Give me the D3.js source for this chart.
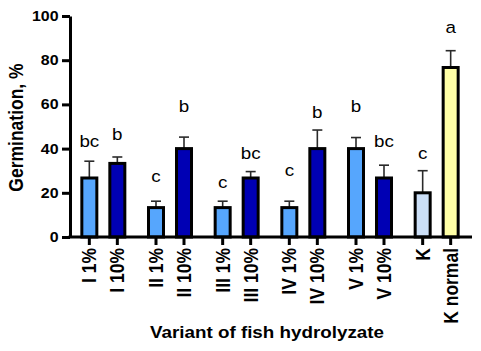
<!DOCTYPE html>
<html>
<head>
<meta charset="utf-8">
<script src="https://cdn.jsdelivr.net/npm/d3@7"></script>
<style>
  html, body { margin: 0; padding: 0; background: #fff; }
  svg { display: block; font-family: "Liberation Sans", Arial, sans-serif; }
</style>
</head>
<body>
<svg id="chart" width="481" height="351"></svg>
<script>
// ---- data ----
const categories = ["I 1%", "I 10%", "II 1%", "II 10%", "III 1%", "III 10%", "IV 1%", "IV 10%", "V 1%", "V 10%", "K", "K normal"];
const groups = ["I", "II", "III", "IV", "V", "K"];
const groupOf = ["I", "I", "II", "II", "III", "III", "IV", "IV", "V", "V", "K", "K"];
const subOf = [0, 1, 0, 1, 0, 1, 0, 1, 0, 1, 0, 1];
const means = [26.7, 33.3, 13.3, 40, 13.3, 26.7, 13.3, 40, 40, 26.7, 20, 76.7];
const errors = [7.6, 2.9, 2.9, 5.2, 2.9, 2.9, 2.9, 8.4, 5.0, 5.8, 10.0, 7.6];
const letters = ["bc", "b", "c", "b", "c", "bc", "c", "b", "b", "bc", "c", "a"];
const letterPos = [40.8, 43.9, 25.1, 56.5, 22.1, 35.2, 27.4, 53.8, 56.5, 40.7, 35.4, 92.2];
const fills = ["#56a6fd", "#0000b4", "#56a6fd", "#0000b4", "#56a6fd", "#0000b4", "#56a6fd", "#0000b4", "#56a6fd", "#0000b4", "#cbdff7", "#ffffa6"];
const yTicks = [0, 20, 40, 60, 80, 100];
const yTitle = "Germination, %";
const xTitle = "Variant of fish hydrolyzate";

// ---- layout ----
const svg = d3.select("#chart");
const mLeft = 70, mRight = 470, mTop = 16, mBottom = 237;
const sx = 1.14; // horizontal text stretch seen in the reference

const y = d3.scaleLinear().domain([0, 100]).range([mBottom, mTop]);
const x0 = d3.scaleBand().domain(groups).range([mLeft, mRight]).padding(0);
const x1 = d3.scalePoint().domain([0, 1]).range([-14, 14]);
const cx = i => x0(groupOf[i]) + x0.bandwidth() / 2 + x1(subOf[i]);
const barW = 15;

const data = categories.map((c, i) => ({ c, i, m: means[i], e: errors[i], l: letters[i], lp: letterPos[i], f: fills[i] }));

// error bars (upper only)
const eb = svg.append("g");
eb.selectAll("line.v").data(data).join("line").attr("class", "v")
  .attr("x1", d => cx(d.i)).attr("x2", d => cx(d.i))
  .attr("y1", d => y(d.m)).attr("y2", d => y(d.m + d.e))
  .attr("stroke", "#2a2a2a").attr("stroke-width", 1.6);
eb.selectAll("line.h").data(data).join("line").attr("class", "h")
  .attr("x1", d => cx(d.i) - 5).attr("x2", d => cx(d.i) + 5)
  .attr("y1", d => y(d.m + d.e)).attr("y2", d => y(d.m + d.e))
  .attr("stroke", "#2a2a2a").attr("stroke-width", 1.6);

// bars
svg.append("g").selectAll("rect").data(data).join("rect")
  .attr("x", d => cx(d.i) - barW / 2)
  .attr("width", barW)
  .attr("y", d => y(d.m))
  .attr("height", d => y(0) - y(d.m))
  .attr("fill", d => d.f)
  .attr("stroke", "#000")
  .attr("stroke-width", 3);

// significance letters
svg.append("g").selectAll("text").data(data).join("text")
  .attr("transform", d => `translate(${cx(d.i)},${y(d.lp)}) scale(${sx},1)`)
  .attr("text-anchor", "middle")
  .attr("font-size", 16.5)
  .attr("fill", "#000")
  .text(d => d.l);

// y axis
const yAxis = d3.axisLeft(y).tickValues(yTicks).tickSize(8).tickSizeOuter(0).tickPadding(3);
const gy = svg.append("g").attr("transform", `translate(${mLeft},0)`).call(yAxis);
gy.select(".domain").attr("stroke-width", 3).attr("stroke", "#000");
gy.selectAll(".tick line").attr("stroke-width", 3).attr("stroke", "#000");
gy.selectAll(".tick text")
  .attr("x", -11.5 / sx)
  .attr("transform", `scale(${sx},1)`)
  .attr("font-size", 14).attr("font-weight", "bold").attr("fill", "#000")
  .attr("font-family", "Liberation Sans, Arial, sans-serif");

// x axis line
svg.append("line")
  .attr("x1", mLeft - 1.5).attr("x2", mRight + 2)
  .attr("y1", y(0)).attr("y2", y(0))
  .attr("stroke", "#000").attr("stroke-width", 3);

// x ticks
svg.append("g").selectAll("line").data(data).join("line")
  .attr("x1", d => cx(d.i)).attr("x2", d => cx(d.i))
  .attr("y1", y(0)).attr("y2", y(0) + 8)
  .attr("stroke", "#000").attr("stroke-width", 3);

// x tick labels (rotated)
svg.append("g").selectAll("text").data(data).join("text")
  .attr("transform", d => `translate(${cx(d.i)},${y(0) + 11}) scale(${sx},1) rotate(-90)`)
  .attr("text-anchor", "end")
  .attr("dy", "0.35em")
  .attr("font-size", 17.5)
  .attr("font-weight", "bold")
  .attr("fill", "#000")
  .text(d => d.c);

// axis titles
svg.append("text")
  .attr("transform", `translate(23,${(mTop + mBottom) / 2 + 1}) scale(${sx},1) rotate(-90)`)
  .attr("text-anchor", "middle")
  .attr("font-size", 17.5)
  .attr("font-weight", "bold")
  .text(yTitle);

svg.append("text")
  .attr("transform", `translate(267,338) scale(${sx},1)`)
  .attr("text-anchor", "middle")
  .attr("font-size", 16.5)
  .attr("font-weight", "bold")
  .text(xTitle);
</script>
</body>
</html>
